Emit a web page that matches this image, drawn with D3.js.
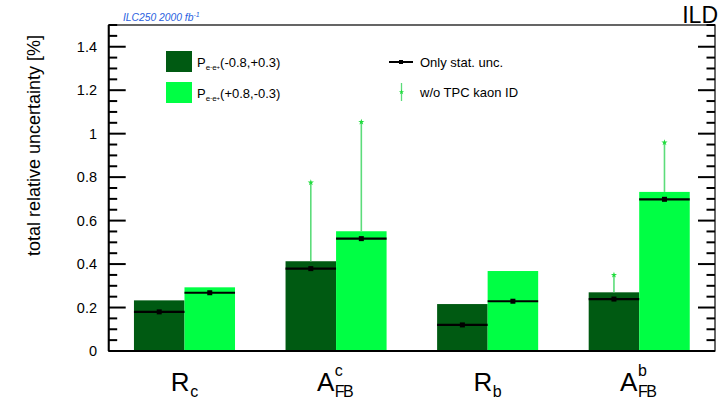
<!DOCTYPE html>
<html><head><meta charset="utf-8">
<script src="https://cdn.jsdelivr.net/npm/d3@7"></script>
<style>body{margin:0;background:#fff}svg{display:block;font-family:"Liberation Sans",Arial,sans-serif}</style>
</head><body>
<svg id="c" width="722" height="401"></svg>
<script>
const categories = ["Rc","AFBc","Rb","AFBb"];
const darkTotal  = [0.233, 0.413, 0.216, 0.270];
const lightTotal = [0.293, 0.551, 0.368, 0.732];
const darkStat   = [0.180, 0.379, 0.120, 0.239];
const lightStat  = [0.268, 0.517, 0.229, 0.698];
const darkNoTPC  = [null, 0.775, null, 0.350];
const lightNoTPC = [null, 1.054, null, 0.959];
const yMajor = [0,0.2,0.4,0.6,0.8,1,1.2,1.4];
const yTickLabels = ["0","0.2","0.4","0.6","0.8","1","1.2","1.4"];

const svg = d3.select("#c");
const L=108.7, R=715, T=25, B=351;
const x = d3.scaleLinear().domain([0,4]).range([L,R]);
const y = d3.scaleLinear().domain([0,1.5]).range([B,T]);
const DARK="#005a12", LIGHT="#00ff44", ERR="#5cdc7a", STAR="#1fdc3c";

const series = [
  {tot:darkTotal, stat:darkStat, wo:darkNoTPC, col:DARK, off:1/6},
  {tot:lightTotal, stat:lightStat, wo:lightNoTPC, col:LIGHT, off:0.5}
];
const bw = 1/3;
series.forEach(s=>{
  svg.append("g").selectAll("rect").data(categories).join("rect")
    .attr("x",(d,i)=>x(i+s.off)).attr("width",(d,i)=>x(i+s.off+bw)-x(i+s.off))
    .attr("y",(d,i)=>y(s.tot[i])).attr("height",(d,i)=>y(0)-y(s.tot[i]))
    .attr("fill",s.col);
});
series.forEach(s=>{
  const g=svg.append("g");
  categories.forEach((c,i)=>{
    if(s.wo[i]!=null){
      const cx=x(i+s.off+bw/2);
      g.append("line").attr("x1",cx).attr("x2",cx).attr("y1",y(s.tot[i])).attr("y2",y(s.wo[i]))
        .attr("stroke",ERR).attr("stroke-width",1.6);
      g.append("path").attr("d",d3.symbol(d3.symbolStar,12)()).attr("transform",`translate(${cx},${y(s.wo[i])})`).attr("fill",STAR);
    }
  });
});
series.forEach(s=>{
  const g=svg.append("g");
  categories.forEach((c,i)=>{
    g.append("line").attr("x1",x(i+s.off)).attr("x2",x(i+s.off+bw)).attr("y1",y(s.stat[i])).attr("y2",y(s.stat[i]))
      .attr("stroke","#000").attr("stroke-width",2.2);
    const cx=x(i+s.off+bw/2);
    g.append("rect").attr("x",cx-2.5).attr("y",y(s.stat[i])-2.5).attr("width",5).attr("height",5).attr("fill","#000");
  });
});

svg.append("rect").attr("x",L).attr("y",T).attr("width",R-L).attr("height",B-T).attr("fill","none").attr("stroke","#000").attr("stroke-width",1.2);
svg.append("line").attr("x1",L).attr("x2",L).attr("y1",T).attr("y2",B).attr("stroke","#000").attr("stroke-width",2);
svg.append("line").attr("x1",L).attr("x2",R).attr("y1",B).attr("y2",B).attr("stroke","#000").attr("stroke-width",2);

const minor = d3.range(0,1.5001,0.05).map(v=>+v.toFixed(2)).filter(v=>!yMajor.some(m=>Math.abs(m-v)<1e-6));
const tg=svg.append("g").attr("stroke","#000").attr("stroke-width",2);
yMajor.forEach(v=>{
  tg.append("line").attr("x1",L).attr("x2",L+17).attr("y1",y(v)).attr("y2",y(v));
  tg.append("line").attr("x1",R-17).attr("x2",R).attr("y1",y(v)).attr("y2",y(v));
});
minor.forEach(v=>{
  tg.append("line").attr("x1",L).attr("x2",L+8.5).attr("y1",y(v)).attr("y2",y(v));
  tg.append("line").attr("x1",R-8.5).attr("x2",R).attr("y1",y(v)).attr("y2",y(v));
});
svg.append("g").selectAll("text").data(yMajor).join("text")
  .attr("x",97).attr("y",d=>y(d)).attr("dy","0.36em").attr("text-anchor","end")
  .attr("font-size",14.5).text((d,i)=>yTickLabels[i]);

svg.append("text").attr("transform","translate(40,35) rotate(-90)").attr("text-anchor","end")
  .attr("font-size",18).text("total relative uncertainty [%]");

svg.append("text").attr("x",123).attr("y",20.5).attr("font-size",10.3).attr("font-style","italic").attr("fill","#2a5fe0")
  .html('ILC250 2000 fb<tspan dy="-4" font-size="7">-1</tspan>');
svg.append("text").attr("x",718).attr("y",23).attr("text-anchor","end").attr("font-size",23).text("ILD");

function catLabel(i, main, sup, sub){
  const g=svg.append("g");
  const t=g.append("text").attr("x",0).attr("y",391).attr("font-size",26).text(main);
  const w=t.node().getComputedTextLength();
  let w2=0;
  if(sup){const s=g.append("text").attr("x",w+0.5).attr("y",376).attr("font-size",16).text(sup); w2=Math.max(w2,s.node().getComputedTextLength());}
  if(sub){const s=g.append("text").attr("x",w+0.5).attr("y",397).attr("font-size",16).attr("textLength", sub.length>1?19:null).text(sub); w2=Math.max(w2,s.node().getComputedTextLength());}
  const total=w+0.5+w2;
  g.attr("transform",`translate(${x(i+0.5)-total/2},0)`);
}
catLabel(0,"R",null,"c");
catLabel(1,"A","c","FB");
catLabel(2,"R",null,"b");
catLabel(3,"A","b","FB");

const lg=svg.append("g");
[[DARK,"(-0.8,+0.3)",51],[LIGHT,"(+0.8,-0.3)",82]].forEach(([c,t,yy])=>{
  lg.append("rect").attr("x",166).attr("y",yy).attr("width",26).attr("height",21).attr("fill",c);
  lg.append("text").attr("x",197).attr("y",yy+15.5).attr("font-size",13)
    .html(`P<tspan dy="3" font-size="8">e</tspan><tspan dy="-1" font-size="6">-</tspan><tspan dy="1" font-size="8">e</tspan><tspan dy="-1" font-size="6">+</tspan><tspan dy="-2">${t}</tspan>`);
});
lg.append("line").attr("x1",389).attr("x2",413).attr("y1",62).attr("y2",62).attr("stroke","#000").attr("stroke-width",2);
lg.append("rect").attr("x",399).attr("y",60).attr("width",4).attr("height",4).attr("fill","#000");
lg.append("text").attr("x",420).attr("y",66.5).attr("font-size",13).text("Only stat. unc.");
lg.append("line").attr("x1",401.5).attr("x2",401.5).attr("y1",83).attr("y2",101).attr("stroke",ERR).attr("stroke-width",1.3);
lg.append("path").attr("d",d3.symbol(d3.symbolStar,9)()).attr("transform","translate(401.5,92)").attr("fill",STAR);
lg.append("text").attr("x",420).attr("y",96.5).attr("font-size",13).text("w/o TPC kaon ID");
</script>
</body></html>
